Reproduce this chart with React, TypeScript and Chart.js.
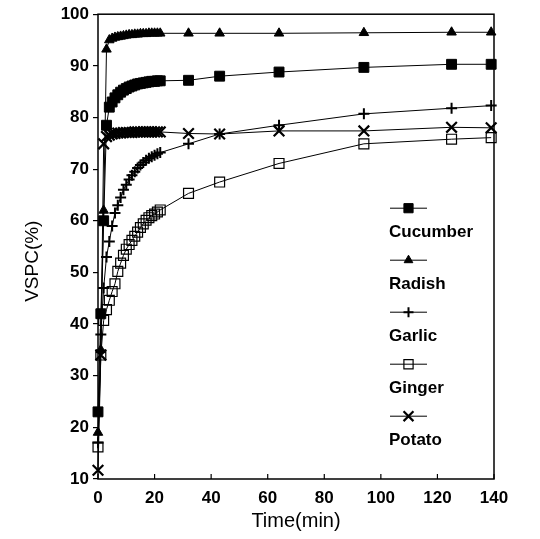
import React, { useEffect, useRef } from "react";
import { Chart, registerables } from "chart.js";
import { drawPoint } from "chart.js/helpers";

Chart.register(...registerables);

const times = [0, 1, 2, 3, 4, 5, 6, 7, 8, 9, 10, 11, 12, 13, 14, 15, 16, 17, 18, 19, 20, 21, 22, 32, 43, 64, 94, 125, 139];

const cucumber = [23, 42, 60, 78.5, 82, 83, 83.8, 84.4, 84.9, 85.3, 85.6, 85.9, 86.1, 86.3, 86.5, 86.6, 86.7, 86.8, 86.9, 87, 87, 87.1, 87.1, 87.2, 88, 88.8, 89.7, 90.3, 90.3];
const radish = [19, 35, 62, 93.2, 95, 95.3, 95.5, 95.6, 95.7, 95.8, 95.9, 96, 96, 96.1, 96.1, 96.2, 96.2, 96.2, 96.3, 96.3, 96.3, 96.3, 96.3, 96.3, 96.3, 96.3, 96.4, 96.5, 96.5];
const garlic = [17, 38, 47, 53, 56, 59, 61.5, 63, 64.5, 66, 67, 68, 68.8, 69.5, 70.2, 70.8, 71.3, 71.7, 72.1, 72.4, 72.7, 73, 73.2, 74.9, 76.8, 78.5, 80.7, 81.8, 82.3];
const ginger = [16.2, 34, 40.7, 42.8, 44.6, 46.3, 47.8, 50.2, 51.8, 53.3, 54.5, 55.4, 56.2, 57, 57.8, 58.7, 59.4, 60.1, 60.6, 61, 61.3, 61.7, 62.1, 65.3, 67.5, 71.1, 74.9, 75.8, 76.1];
const potato = [11.7, 34, 74.9, 76.3, 76.6, 76.8, 76.9, 77, 77, 77.1, 77.1, 77.1, 77.1, 77.2, 77.2, 77.2, 77.2, 77.2, 77.2, 77.2, 77.2, 77.2, 77.2, 76.9, 76.8, 77.4, 77.4, 78.1, 78];

const seriesNames = ["Cucumber", "Radish", "Garlic", "Ginger", "Potato"];
const seriesValues = [cucumber, radish, garlic, ginger, potato];

const xTicks = [0, 20, 40, 60, 80, 100, 120, 140];
const yTicks = [10, 20, 30, 40, 50, 60, 70, 80, 90, 100];

const yTitle = "VSPC(%)";

const FONT = "'Liberation Sans', Arial, Helvetica, sans-serif";

const markerStyles = [
  { pointStyle: "rect", radius: 7, fill: "#000", width: 1 },
  { pointStyle: "triangle", radius: 5.5, fill: "#000", width: 1 },
  { pointStyle: "cross", radius: 5.5, fill: "#000", width: 2 },
  { pointStyle: "rect", radius: 7, fill: "rgba(0,0,0,0)", width: 1.2 },
  { pointStyle: "crossRot", radius: 7.5, fill: "#000", width: 2.2 },
];

const framePlugin = {
  id: "framePlugin",
  afterDraw(chart: any) {
    const { ctx, chartArea } = chart;
    const xs = chart.scales.x;
    ctx.save();
    ctx.strokeStyle = "#000";
    ctx.lineWidth = 1.5;
    ctx.strokeRect(chartArea.left, chartArea.top, chartArea.right - chartArea.left, chartArea.bottom - chartArea.top);
    ctx.lineWidth = 1.2;
    xTicks.forEach((v) => {
      const px = xs.getPixelForValue(v);
      ctx.beginPath();
      ctx.moveTo(px, chartArea.bottom);
      ctx.lineTo(px, chartArea.bottom - 5);
      ctx.stroke();
    });
    ctx.translate(33, chartArea.top + 247);
    ctx.rotate(-Math.PI / 2);
    ctx.fillStyle = "#000";
    ctx.font = `19px ${FONT}`;
    ctx.textAlign = "center";
    ctx.textBaseline = "middle";
    ctx.fillText(yTitle, 0, 0);
    ctx.restore();
  },
};

const legendPlugin = {
  id: "customLegend",
  afterDatasetsDraw(chart: any) {
    const { ctx, chartArea } = chart;
    ctx.save();
    seriesNames.forEach((name, i) => {
      const y = chartArea.top + 194 + 52 * i;
      const x0 = chartArea.right - 104;
      const x1 = chartArea.right - 67;
      ctx.strokeStyle = "#000";
      ctx.lineWidth = 1;
      ctx.beginPath();
      ctx.moveTo(x0, y);
      ctx.lineTo(x1, y);
      ctx.stroke();
      const m = markerStyles[i];
      ctx.fillStyle = m.fill;
      ctx.strokeStyle = "#000";
      ctx.lineWidth = m.width;
      drawPoint(ctx, { pointStyle: m.pointStyle as any, radius: m.radius - 0.5, rotation: 0, borderWidth: m.width } as any, (x0 + x1) / 2, y);
      ctx.fillStyle = "#000";
      ctx.font = `bold 17px ${FONT}`;
      ctx.textAlign = "left";
      ctx.textBaseline = "middle";
      ctx.fillText(name, chartArea.right - 105, y + 24);
    });
    ctx.restore();
  },
};

export default function App() {
  const canvasRef = useRef<HTMLCanvasElement>(null);

  useEffect(() => {
    if (!canvasRef.current) return;
    const datasets = seriesNames.map((name, i) => {
      const m = markerStyles[i];
      return {
        label: name,
        data: times.map((t, j) => ({ x: t, y: seriesValues[i][j] })),
        showLine: true,
        borderColor: "#000",
        borderWidth: 1,
        pointStyle: m.pointStyle,
        pointRadius: m.radius,
        pointBackgroundColor: m.fill,
        pointBorderColor: "#000",
        pointBorderWidth: m.width,
        clip: false,
      };
    });
    const chart = new Chart(canvasRef.current, {
      type: "scatter",
      data: { datasets } as any,
      options: {
        animation: false,
        responsive: false,
        maintainAspectRatio: false,
        layout: { padding: { top: 13, right: 46, left: 0, bottom: 0 } },
        plugins: { legend: { display: false }, tooltip: { enabled: false } },
        scales: {
          x: {
            type: "linear",
            min: 0,
            max: 140,
            afterBuildTicks: (s: any) => {
              s.ticks = xTicks.map((v) => ({ value: v }));
            },
            afterFit: (s: any) => {
              s.height = 60;
            },
            grid: { display: false },
            border: { display: false },
            ticks: {
              color: "#000",
              font: { family: FONT, size: 17, weight: "bold" },
              padding: 1,
              maxRotation: 0,
            },
            title: {
              display: true,
              text: "Time(min)",
              color: "#000",
              font: { family: FONT, size: 20 },
              padding: { top: 0, bottom: 6 },
            },
          },
          y: {
            type: "linear",
            min: 10,
            max: 100,
            afterBuildTicks: (s: any) => {
              s.ticks = yTicks.map((v) => ({ value: v }));
            },
            afterFit: (s: any) => {
              s.width = 98;
            },
            grid: { display: true, drawOnChartArea: false, drawTicks: true, tickLength: 5, color: "#000", lineWidth: 1.2 },
            border: { display: false },
            ticks: {
              color: "#000",
              font: { family: FONT, size: 17, weight: "bold" },
              padding: 4,
            },
            title: { display: false },
          },
        },
      } as any,
      plugins: [framePlugin, legendPlugin],
    });
    return () => chart.destroy();
  }, []);

  return (
    <div style={{ position: "fixed", left: 0, top: 0, width: 540, height: 539, background: "#fff" }}>
      <canvas ref={canvasRef} width={540} height={539} style={{ width: 540, height: 539, display: "block" }} />
    </div>
  );
}
